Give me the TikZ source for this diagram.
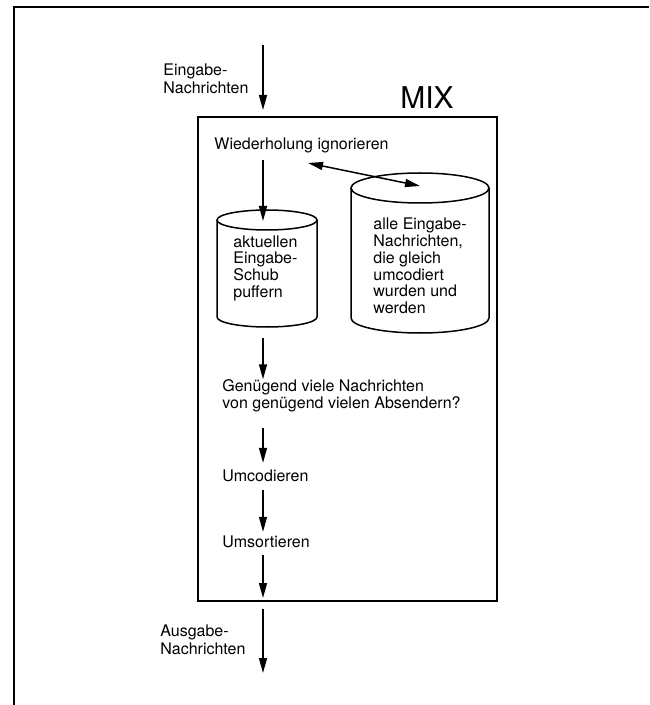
\documentclass[tikz,border=0pt]{standalone}
\usepackage{fontspec}
\setmainfont{TeX Gyre Heros}
\usetikzlibrary{arrows.meta,calc}

\begin{document}
\begin{tikzpicture}[x=0.5pt,y=-0.5pt,>={Triangle[length=7.5pt,width=4pt]},
  lbl/.style={inner sep=0pt,anchor=west,align=left,font=\fontsize{8}{9}\selectfont},
  stufe/.style={inner sep=0pt,anchor=west,font=\fontsize{8}{9}\selectfont,text height=6pt,text depth=1.8pt},
  flow/.style={->,line width=0.75pt},
  tonne/.style={line width=0.75pt}]
  \useasboundingbox (0,0) rectangle (649,705);
  \draw[line width=0.7pt] (14,705) -- (14,7) -- (193,7);
  \draw[line width=1pt] (193,7) -- (649,7);

  \node[draw,line width=1.3pt,minimum width=149.5pt,minimum height=242pt,inner sep=0pt,outer sep=0pt] (mix) at (347.5,359) {};
  \node[inner sep=0pt,font=\fontsize{15}{15}\selectfont] (mixlbl) at (427,98) {MIX};

  \node[lbl] (ein) at (163,79) {Eingabe-\\Nachrichten};
  \coordinate (ein top) at (263,45);
  \draw[flow,shorten >=3.5pt] (ein top) -- (mix.north -| ein top);

  \node[stufe] (wdh) at (214,145) {Wiederholung ignorieren};
  \coordinate (ltop) at (263,221);
  \coordinate (lbot) at (263,327);
  \coordinate (rtop) at (420,186);
  \coordinate (wdh arr) at (308,163);
  \draw[flow,shorten <=3.5pt] (wdh.south -| ltop) -- (ltop);

  % zwei Tonnen: Mitte x, Radius x, oben, unten, Radius y
  \foreach \cx/\rx/\ty/\by/\ry in {267/50/220/317/10,420/69/188/318/15} {
    \draw[tonne] (\cx-\rx,\ty) -- (\cx-\rx,\by)
      arc[start angle=180,end angle=0,x radius=\rx,y radius=\ry] -- (\cx+\rx,\ty);
    \draw[tonne] (\cx,\ty) ellipse[x radius=\rx,y radius=\ry];
  }
  \node[lbl,font=\fontsize{8}{8.35}\selectfont] (puffer) at (233,268) {aktuellen\\Eingabe-\\Schub\\puffern};
  \node[lbl,font=\fontsize{8}{8.35}\selectfont] (alle) at (373,266) {alle Eingabe-\\Nachrichten,\\die gleich\\umcodiert\\wurden und\\werden};
  \draw[<->,line width=0.75pt] (wdh arr) -- (rtop);

  \node[lbl,font=\fontsize{8}{8.6}\selectfont] (genug) at (222,396) {Genügend viele Nachrichten\\von genügend vielen Absendern?};
  \node[stufe] (umcod) at (222,477) {Umcodieren};
  \node[stufe] (umsort) at (222,543) {Umsortieren};
  \draw[flow,shorten <=5.5pt] (lbot) -- (genug.north -| lbot);
  \draw[flow,shorten <=7.5pt,shorten >=3pt] (genug.south -| lbot) -- (umcod.north -| lbot);
  \draw[flow,shorten <=2.5pt,shorten >=1.5pt] (umcod.south -| lbot) -- (umsort.north -| lbot);
  \draw[flow,shorten <=2pt,shorten >=1.5pt] (umsort.south -| lbot) -- (mix.south -| lbot);

  \node[lbl] (aus) at (160,640) {Ausgabe-\\Nachrichten};
  \coordinate (aus end) at (263,673);
  \draw[flow,shorten <=4pt] (mix.south -| lbot) -- (aus end);
\end{tikzpicture}
\end{document}
